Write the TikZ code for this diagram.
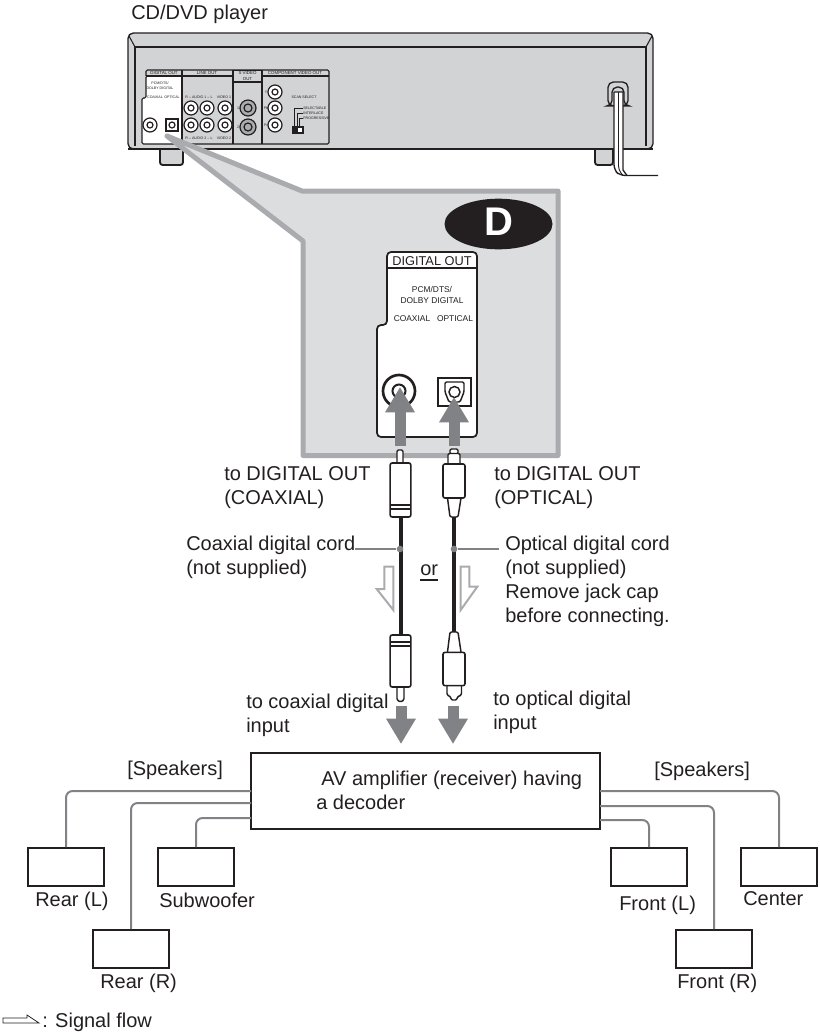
\documentclass[tikz,border=0pt]{standalone}
\usepackage{fontspec}
\setmainfont{Liberation Sans}
\usetikzlibrary{arrows.meta,positioning,shapes.geometric}
\definecolor{ink}{HTML}{231F20}
\definecolor{body}{HTML}{D1D3D4}
\definecolor{band}{HTML}{A9ABAE}
\definecolor{panel}{HTML}{DCDDDE}
\definecolor{flow}{HTML}{808285}
\tikzset{
  lbl/.style={anchor=west,inner sep=0pt,text=ink,font=\fontsize{15}{18}\selectfont,text height=12pt,text depth=2.2pt},
  spk/.style={draw=ink,line width=1.5pt,fill=white,minimum width=57pt,minimum height=28.5pt,inner sep=0pt},
  wire/.style={draw=flow,line width=1.5pt,rounded corners=5pt},
  cord/.style={draw=ink,line width=3pt},
  leader/.style={draw=flow,line width=1pt},
  plugbody/.style={draw=ink,line width=1.2pt,fill=white,rounded corners=1.5pt,inner sep=0pt,minimum width=15.5pt},
  plugline/.style={draw=ink,line width=1.1pt,fill=white,rounded corners=1pt},
  bigflow/.style={draw=flow,line width=8.25pt,-{Triangle[length=19pt,width=21pt]}},
  hollow/.style={draw=band,line width=1.5pt,fill=white},
  jack/.style={draw=ink,line width=0.9pt,fill=white},
  rearline/.style={draw=ink,line width=0.8pt},
  rearhead/.style={inner sep=0pt,text=ink,font=\fontsize{3.3}{4}\selectfont},
  reartext/.style={inner sep=0pt,text=ink,font=\fontsize{2.7}{4}\selectfont},
  boxtext/.style={inner sep=0pt,text=ink,font=\fontsize{6.3}{8.5}\selectfont}
}
\begin{document}
\begin{tikzpicture}[x=0.75pt,y=-0.75pt]
  \useasboundingbox (0,0) rectangle (820,1032);
  \node[lbl] (playerlbl) at (131,13) {CD/DVD player};
  % Player feet
  \draw[draw=ink,line width=1.4pt,fill=body,rounded corners=2pt] (160,145) -- (160,165) -- (183,165) -- (183,145);
  \draw[draw=ink,line width=1.4pt,fill=body,rounded corners=2pt] (595,145) -- (595,165) -- (613,165) -- (613,145);
  % Player back
  \draw[draw=ink,line width=1pt,fill=body,rounded corners=4pt] (128,149) -- (128,33) -- (653,33) -- (653,149) -- cycle;
  \draw[draw=ink,line width=2pt] (128,149) -- (653,149);
  \draw[rearline] (135,146) -- (135,47) -- (646,47) -- (646,146);
  \draw[rearline] (129,36) -- (135,47) (652,36) -- (646,47);
  % Rear panel
  \draw[rearline,fill=white,rounded corners=1pt] (146,76) -- (146,98) -- (142,98) -- (142,144) -- (182,144) -- (182,76) -- cycle;
  \draw[rearline,rounded corners=1pt] (146,76) -- (146,70) -- (329,70) -- (329,144) -- (182,144);
  \draw[rearline] (146,76) -- (329,76) (182,70) -- (182,144) (233,70) -- (233,144) (262,70) -- (262,144);
  \draw[rearline,fill=body] (233.5,70.5) rectangle (261.5,82);
  \node[rearhead] (hdigital) at (164,73) {DIGITAL OUT};
  \node[rearhead] (hline) at (207,73) {LINE OUT};
  \node[rearhead,align=center] (hsvideo) at (247.5,76) {S VIDEO\\OUT};
  \node[rearhead] (hcomp) at (295,73) {COMPONENT VIDEO OUT};
  \node[reartext,align=center] (rpcm) at (160,86) {PCM/DTS/\\DOLBY DIGITAL};
  \node[reartext] (rcoax) at (155,97) {COAXIAL};
  \node[reartext] (ropt) at (172,97) {OPTICAL};
  \node[reartext] (raudioa) at (199,97) {R -- AUDIO 1 -- L};
  \node[reartext] (rvideoa) at (224,97) {VIDEO 1};
  \node[reartext] (raudiob) at (199,138) {R -- AUDIO 2 -- L};
  \node[reartext] (rvideob) at (224,138) {VIDEO 2};
  \node[reartext] (rsone) at (238,108) {1};
  \node[reartext] (rstwo) at (238,127) {2};
  \node[reartext] (rcy) at (266,92) {Y};
  \node[reartext] (rcb) at (266,108) {Pb};
  \node[reartext] (rcr) at (266,125) {Pr};
  \node[reartext] (rscan) at (304,97) {SCAN SELECT};
  \node[reartext,anchor=west] (rsel) at (303,108) {SELECTABLE};
  \node[reartext,anchor=west] (rint) at (303,113) {INTERLACE};
  \node[reartext,anchor=west] (rprog) at (303,118) {PROGRESSIVE};
  \draw[rearline,line width=0.6pt] (302.5,108) -- (294,108) -- (294,127) (302.5,113) -- (297,113) -- (297,127) (302.5,118) -- (299,118) -- (299,127);
  \draw[rearline,fill=white] (293,127) rectangle (303,133);
  \fill[ink] (293,127) rectangle (298,133);
  % Rear jacks
  \draw[jack] (150,125) circle (7) circle (3);
  \draw[jack,line width=1.2pt] (166,119) rectangle (178,131);
  \draw[jack] (172,125) circle (3);
  \draw[jack] (191,108) circle (7) circle (3);
  \draw[jack] (207,108) circle (7) circle (3);
  \draw[jack] (225,108) circle (7) circle (3);
  \draw[jack] (191,125) circle (7) circle (3);
  \draw[jack] (207,125) circle (7) circle (3);
  \draw[jack] (225,125) circle (7) circle (3);
  \draw[jack,fill=band] (248,108) circle (8) circle (4);
  \draw[jack,fill=band] (248,127) circle (8) circle (4);
  \draw[jack] (275,92) circle (7) circle (3);
  \draw[jack] (275,108) circle (7) circle (3);
  \draw[jack] (275,125) circle (7) circle (3);
  % Power cord
  \draw[draw=ink,line width=1pt,rounded corners=4pt] (608,106) -- (608,82) -- (628,82) -- (628,106) -- (624,106) -- (624,87) -- (612,87) -- (612,106) -- cycle;
  \fill[white] (614,92) -- (623,92) -- (623,170) -- (628,175.5) -- (619,175.5) -- (614,170) -- cycle;
  \draw[draw=ink,line width=1pt,rounded corners=4pt] (614,92) -- (614,170) -- (620,175.5) -- (658,175.5);
  \draw[draw=ink,line width=1pt] (614,92) -- (623,92) -- (623,170) -- (627,175.5);
  \draw[draw=ink,line width=0.7pt,rounded corners=3pt] (618.5,92) -- (618.5,170) -- (623,175.5);
  % Magnified view
  \draw[draw=band,fill=panel,line width=3.75pt,line join=round] (167,136) -- (302,191) -- (558,191) -- (558,455.5) -- (303,455.5) -- (303,241) -- cycle;
  \node[fill=ink,ellipse,minimum width=81pt,minimum height=38pt,inner sep=0pt] (dbadge) at (498.5,224) {};
  \node[text=white,inner sep=0pt,font=\fontsize{30}{30}\selectfont\bfseries] (dletter) at (499,222) {D};
  \draw[draw=ink,line width=1.3pt,fill=white,rounded corners=3pt] (387,252) -- (477,252) -- (477,437) -- (377,437) -- (377,325) -- (387,325) -- cycle;
  \draw[draw=ink,line width=1pt] (387,268) -- (477,268);
  \node[inner sep=0pt,text=ink,font=\fontsize{9.6}{11}\selectfont] (dighead) at (432,261) {DIGITAL OUT};
  \node[boxtext,align=center] (pcm) at (432,295) {PCM/DTS/\\DOLBY DIGITAL};
  \node[boxtext] (coaxtxt) at (412,319) {COAXIAL};
  \node[boxtext] (opttxt) at (455,319) {OPTICAL};
  \draw[draw=ink,line width=2pt,fill=white] (399,391) circle (16);
  \draw[draw=ink,line width=1.5pt] (399,391) circle (6.5);
  \draw[draw=ink,line width=2pt,fill=white] (438,378) rectangle (471,406);
  \draw[draw=ink,line width=1.1pt,rounded corners=1pt] (445,382) -- (464,382) -- (464,392) -- (460,402) -- (449,402) -- (445,392) -- cycle;
  \draw[draw=ink,line width=1.1pt] (454.5,392) circle (5.5);
  % Upper plugs
  \draw[plugline] (397,463) -- (397,450) -- (403,450) -- (403,463);
  \node[plugbody,minimum height=40.5pt] (coaxup) at (400.5,490) {};
  \draw[rearline] (390.5,505) -- (410.5,505) (390.5,509) -- (410.5,509);
  \draw[plugline] (450,454) -- (458,454) -- (458,449) -- (450,449) -- cycle;
  \draw[plugline] (448,464) -- (448,453.5) -- (460,453.5) -- (460,464);
  \draw[plugline] (447.5,498) -- (450,517) -- (458,517) -- (461,498);
  \node[plugbody,minimum width=16.5pt,minimum height=25.5pt] (optup) at (454,481) {};
  % Lower plugs
  \node[plugbody,minimum height=39pt] (coaxlow) at (400.5,661) {};
  \draw[rearline] (390.5,642) -- (410.5,642) (390.5,646) -- (410.5,646);
  \draw[plugline] (397,688) -- (397,700) -- (400.5,702) -- (404,700) -- (404,688);
  \draw[plugline] (447,686) -- (447,695) -- (451,697) -- (451,700) -- (457,700) -- (457,697) -- (461.5,695) -- (461.5,686);
  \draw[plugline] (447.5,652) -- (450,632) -- (458,632) -- (461,652);
  \node[plugbody,minimum width=16.5pt,minimum height=25pt] (optlow) at (454,669) {};
  \coordinate (optuptail) at (454,517);
  \coordinate (optlowtop) at (454,632);
  % Cords
  \draw[cord] (coaxup.south) -- (coaxlow.north);
  \draw[cord] (optuptail) -- (optlowtop);
  \node[circle,fill=flow,minimum size=5pt,inner sep=0pt] (coaxdot) at (400,549) {};
  \node[circle,fill=flow,minimum size=5pt,inner sep=0pt] (optdot) at (454,549) {};
  \coordinate (coaxend) at (355,549);
  \coordinate (optend) at (499,549);
  \draw[leader] (coaxend) -- (coaxdot);
  \draw[leader] (optdot) -- (optend);
  % Signal arrows
  \coordinate (coaxjack) at (400,387);
  \coordinate (coaxtail) at (400,446);
  \coordinate (optjack) at (454,397);
  \coordinate (opttail) at (454,446);
  \coordinate (coaxin) at (401,744);
  \coordinate (coaxfrom) at (401,705.5);
  \coordinate (optin) at (453,744);
  \coordinate (optfrom) at (453,705.5);
  \draw[bigflow] (coaxtail) -- (coaxjack);
  \draw[bigflow] (opttail) -- (optjack);
  \draw[bigflow] (coaxfrom) -- (coaxin);
  \draw[bigflow] (optfrom) -- (optin);
  \draw[hollow] (384.3,566.7) -- (393.3,566.7) -- (393.3,610) -- (376.7,589) -- (384.3,589) -- cycle;
  \draw[hollow] (460.7,566.7) -- (469.3,566.7) -- (469.3,586.7) -- (477.3,586.7) -- (460.7,610) -- cycle;
  % Cord labels
  \node[lbl] (todiga) at (224,474) {to DIGITAL OUT};
  \node[lbl] (todigb) at (224,498) {(COAXIAL)};
  \node[lbl] (todigc) at (494,474) {to DIGITAL OUT};
  \node[lbl] (todigd) at (494,498) {(OPTICAL)};
  \node[lbl] (coaxa) at (186,544) {Coaxial digital cord};
  \node[lbl] (coaxb) at (186,568) {(not supplied)};
  \node[lbl] (opta) at (505,544) {Optical digital cord};
  \node[lbl] (optb) at (505,568) {(not supplied)};
  \node[lbl] (optc) at (505,592) {Remove jack cap};
  \node[lbl] (optd) at (505,616) {before connecting.};
  \node[lbl] (orlbl) at (420,569) {or};
  \draw[draw=ink,line width=1.2pt] (orlbl.south west) ++(0,1.5) -- ++(18,0);
  \node[lbl] (incoaxa) at (246,702) {to coaxial digital};
  \node[lbl] (incoaxb) at (246,726) {input};
  \node[lbl] (inopta) at (493,699) {to optical digital};
  \node[lbl] (inoptb) at (493,723) {input};
  % Amplifier and speakers
  \node[spk,minimum width=261.75pt,minimum height=57pt] (amp) at (425.5,791) {};
  \node[lbl] (ampa) at (321,779) {AV amplifier (receiver) having};
  \node[lbl] (ampb) at (316,803) {a decoder};
  \node[lbl] (spkl) at (127,769) {[Speakers]};
  \node[lbl] (spkr) at (654,770) {[Speakers]};
  \node[spk] (rearl) at (66,867) {};
  \node[spk] (sub) at (196,867) {};
  \node[spk] (rearr) at (131,949) {};
  \node[spk] (frontl) at (649,867) {};
  \node[spk] (center) at (779,867) {};
  \node[spk] (frontr) at (714,949) {};
  \coordinate (ampla) at (251,791);
  \coordinate (amplb) at (251,803);
  \coordinate (amplc) at (251,818);
  \coordinate (ampra) at (600,791);
  \coordinate (amprb) at (600,806);
  \coordinate (amprc) at (600,820);
  \draw[wire] (ampla) -| (rearl.north);
  \draw[wire] (amplb) -| (rearr.north);
  \draw[wire] (amplc) -| (sub.north);
  \draw[wire] (ampra) -| (center.north);
  \draw[wire] (amprb) -| (frontr.north);
  \draw[wire] (amprc) -| (frontl.north);
  \node[lbl] (rearllbl) at (35,900) {Rear (L)};
  \node[lbl] (sublbl) at (159,901) {Subwoofer};
  \node[lbl] (rearrlbl) at (100,982) {Rear (R)};
  \node[lbl] (frontllbl) at (619,904) {Front (L)};
  \node[lbl] (centerlbl) at (743,899) {Center};
  \node[lbl] (frontrlbl) at (677,982) {Front (R)};
  % Legend
  \draw[draw=ink,line width=0.6pt,fill=white] (3,1018) -- (27,1018) -- (27,1015) -- (39,1023) -- (3,1023) -- cycle;
  \node[lbl] (legend) at (42,1021) {: Signal flow};
\end{tikzpicture}
\end{document}
